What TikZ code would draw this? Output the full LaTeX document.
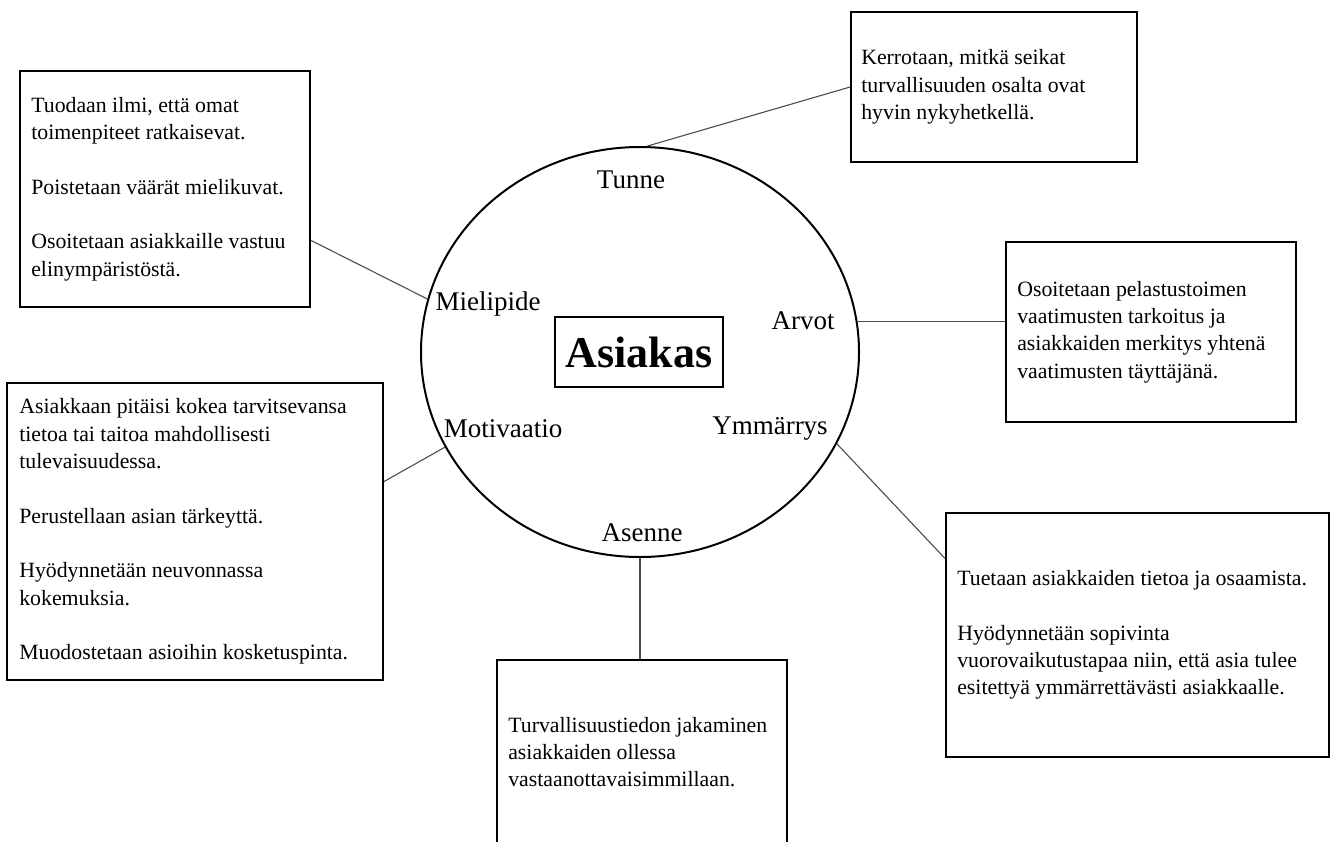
\documentclass[tikz,border=0pt]{standalone}
\usepackage{fontspec}
\setmainfont{Liberation Serif}
\usetikzlibrary{shapes.geometric,calc}
\begin{document}
\begin{tikzpicture}[x=1pt,y=-1pt,
  box/.style={draw=black,line width=1.8pt,rectangle,inner sep=0pt},
  txt/.style={anchor=west,inner sep=0pt,align=left,font=\fontsize{21.8}{27.3}\selectfont},
  lbl/.style={inner sep=0pt,font=\fontsize{27}{32}\selectfont},
  conn/.style={draw=black!70,line width=1.1pt}]
\useasboundingbox (0,0) rectangle (1330,841);
\clip (0,0) rectangle (1330,841);
% central ellipse
\node[draw=black,line width=2pt,ellipse,minimum width=438pt,minimum height=410pt,inner sep=0pt] (c) at (640,352) {};
\node[draw=black,line width=1.8pt,inner sep=0pt,minimum width=168pt,minimum height=70pt,font=\fontsize{44}{50}\selectfont\bfseries] (asiakas) at (639,352) {Asiakas};
% labels
\node[lbl] (tunne) at (631,180) {Tunne};
\node[lbl] (mielipide) at (488,304) {Mielipide};
\node[lbl] (arvot) at (803,321) {Arvot};
\node[lbl] (motivaatio) at (503,429) {Motivaatio};
\node[lbl] (ymmarrys) at (770,429) {Ymmärrys};
\node[lbl] (asenne) at (642,533) {Asenne};
% boxes
\node[box,minimum width=290pt,minimum height=236pt] (tl) at (165,189) {};
\node[box,minimum width=286pt,minimum height=150pt] (tr) at (994,87) {};
\node[box,minimum width=290pt,minimum height=180pt] (rb) at (1151,332) {};
\node[box,minimum width=376pt,minimum height=297pt] (ml) at (195,531.5) {};
\node[box,minimum width=383pt,minimum height=244pt] (br) at (1137.5,635) {};
\node[box,minimum width=290pt,minimum height=184pt] (bb) at (642,752) {};
% texts
\node[txt] (tltext) at ($(tl.west)+(12,0)$) {Tuodaan ilmi, että omat\\toimenpiteet ratkaisevat.\\[27.3pt]Poistetaan väärät mielikuvat.\\[27.3pt]Osoitetaan asiakkaille vastuu\\elinympäristöstä.};
\node[txt] (trtext) at ($(tr.west)+(11,0)$) {Kerrotaan, mitkä seikat\\turvallisuuden osalta ovat\\hyvin nykyhetkellä.};
\node[txt] (rbtext) at ($(rb.west)+(12,0)$) {Osoitetaan pelastustoimen\\vaatimusten tarkoitus ja\\asiakkaiden merkitys yhtenä\\vaatimusten täyttäjänä.};
\node[txt] (mltext) at ($(ml.west)+(13,0)$) {Asiakkaan pitäisi kokea tarvitsevansa\\tietoa tai taitoa mahdollisesti\\tulevaisuudessa.\\[27.3pt]Perustellaan asian tärkeyttä.\\[27.3pt]Hyödynnetään neuvonnassa\\kokemuksia.\\[27.3pt]Muodostetaan asioihin kosketuspinta.};
\node[txt] (brtext) at ($(br.west)+(12,0)$) {Tuetaan asiakkaiden tietoa ja osaamista.\\[27.3pt]Hyödynnetään sopivinta\\vuorovaikutustapaa niin, että asia tulee\\esitettyä ymmärrettävästi asiakkaalle.};
\node[txt] (bbtext) at ($(bb.west)+(12,0)$) {Turvallisuustiedon jakaminen\\asiakkaiden ollessa\\vastaanottavaisimmillaan.};
% connectors
\draw[conn] ($(tl.north east)!0.716!(tl.south east)$) -- (c.166);
\draw[conn] (c.88.6) -- (tr.west);
\draw[conn] (c.8) -- (c.8 -| rb.west);
\draw[conn] (c.-25) -- ($(br.north west)!0.189!(br.south west)$);
\draw[conn] (c.206) -- ($(ml.north east)!0.333!(ml.south east)$);
\draw[conn] (c.south) -- (c.south |- bb.north);
\end{tikzpicture}
\end{document}
